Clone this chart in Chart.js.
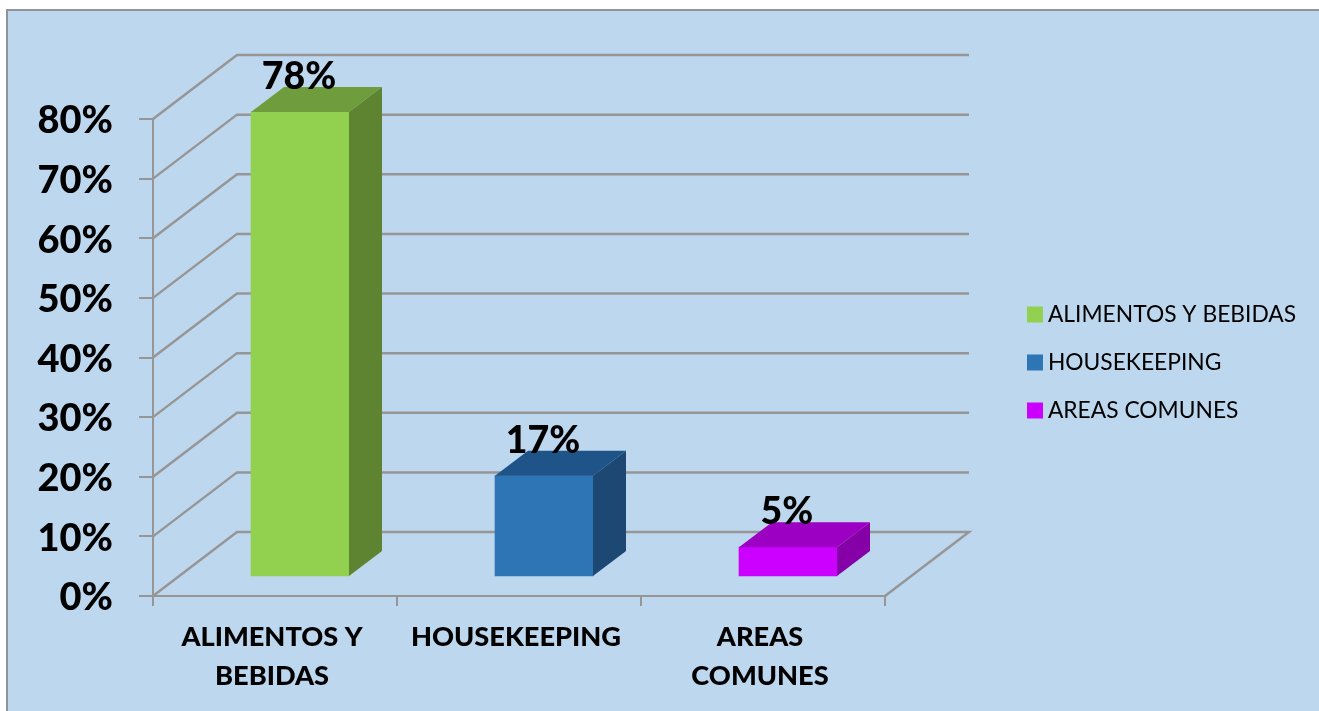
<!DOCTYPE html>
<html>
<head>
<meta charset="utf-8">
<title>Chart</title>
<style>
    html, body { margin: 0; padding: 0; background: #fff; overflow: hidden; }
    #frame {
        position: absolute; left: 6px; top: 9px; right: 0; bottom: 0;
        background: #bdd7ee; border-left: 2px solid #8f9499; border-top: 2px solid #8f9499;
    }
    #chart { position: absolute; left: 0; top: 0; }
</style>
<script src="https://cdn.jsdelivr.net/npm/chart.js@4/dist/chart.umd.min.js"></script>
</head>
<body>
<div id="frame"></div>
<canvas id="chart" width="1319" height="711"></canvas>
<script>
const categories = [['ALIMENTOS Y', 'BEBIDAS'], 'HOUSEKEEPING', ['AREAS', 'COMUNES']];
const legendLabels = ['ALIMENTOS Y BEBIDAS', 'HOUSEKEEPING', 'AREAS COMUNES'];
const values = [0.78, 0.17, 0.05];

const frontColors = ['#92d050', '#2e75b6', '#cc00ff'];
const topColors = ['#6f9c3d', '#1f5489', '#9c00c3'];
const sideColors = ['#5e8431', '#1c4873', '#8500a6'];

const GRID = '#969696';
const FONT = 'Lato, "Open Sans", sans-serif';

// 3D projection offsets
const WALL_DX = 84, WALL_DY = -64;   // front plane -> back wall
const BAR_DX = 25, BAR_DY = -19;     // front plane -> bar front face
const DEPTH_DX = 33, DEPTH_DY = -25; // bar front face -> bar back face

function poly(ctx, color, pts) {
    ctx.fillStyle = color;
    ctx.beginPath();
    pts.forEach((p, i) => i ? ctx.lineTo(p[0], p[1]) : ctx.moveTo(p[0], p[1]));
    ctx.closePath();
    ctx.fill();
}

const fake3d = {
    id: 'fake3d',
    afterLayout(chart) {
        // legend sits outside the plot, the plot size is fixed by the padding
        const lg = chart.legend;
        lg.left = 1033.5 - lg.options.labels.padding;
        lg.right = 1319;
        lg.top = 278;
        lg.bottom = 711;
    },
    beforeDatasetsDraw(chart) {
        const ctx = chart.ctx, y = chart.scales.y, area = chart.chartArea;
        ctx.save();
        ctx.strokeStyle = GRID;
        ctx.lineWidth = 2.5;
        y.ticks.forEach(t => {
            const py = y.getPixelForValue(t.value);
            ctx.beginPath();
            ctx.moveTo(area.left, py);
            ctx.lineTo(area.left + WALL_DX, py + WALL_DY);
            ctx.lineTo(area.right + WALL_DX, py + WALL_DY);
            if (t.value === 0) ctx.lineTo(area.right, py);
            ctx.stroke();
        });
        ctx.restore();
        // front faces are drawn by Chart.js, just moved into the floor depth
        ctx.save();
        ctx.translate(BAR_DX, BAR_DY);
    },
    afterDatasetsDraw(chart) {
        const ctx = chart.ctx;
        ctx.restore();
        chart.getDatasetMeta(0).data.forEach((bar, i) => {
            const l = bar.x - bar.width / 2 + BAR_DX, r = bar.x + bar.width / 2 + BAR_DX;
            const t = bar.y + BAR_DY, b = bar.base + BAR_DY;
            poly(ctx, topColors[i], [[l, t], [r, t], [r + DEPTH_DX, t + DEPTH_DY], [l + DEPTH_DX, t + DEPTH_DY]]);
            poly(ctx, sideColors[i], [[r, t], [r + DEPTH_DX, t + DEPTH_DY], [r + DEPTH_DX, b + DEPTH_DY], [r, b]]);

            ctx.save();
            ctx.fillStyle = '#000';
            ctx.font = '900 37.5px ' + FONT;
            ctx.textAlign = 'center';
            ctx.textBaseline = 'alphabetic';
            ctx.fillText(Math.round(values[i] * 100) + '%', (l + r) / 2 - 1, t - 23);
            ctx.restore();
        });
    }
};

new Chart(document.getElementById('chart'), {
    type: 'bar',
    data: {
        labels: categories,
        datasets: [{
            data: values,
            backgroundColor: frontColors,
            barThickness: 98
        }]
    },
    options: {
        responsive: false,
        animation: false,
        layout: { padding: { left: 0, top: 119, right: 434, bottom: 0 } },
        plugins: {
            tooltip: { enabled: false },
            legend: {
                position: 'chartArea',
                align: 'start',
                labels: {
                    color: '#1a1a1a',
                    font: { family: FONT, size: 22.8 },
                    boxWidth: 3,
                    boxHeight: 3,
                    padding: 25.2,
                    // thick same-colour stroke gives the 16px swatch with a tight text gap
                    generateLabels: () => legendLabels.map((text, i) => ({
                        text,
                        fillStyle: frontColors[i],
                        strokeStyle: frontColors[i],
                        lineWidth: 13,
                        lineJoin: 'miter',
                        index: i
                    }))
                }
            }
        },
        scales: {
            x: {
                afterFit(s) { s.height = 115; },
                grid: { drawOnChartArea: false, color: GRID, lineWidth: 2, tickLength: 10 },
                border: { color: GRID, width: 2 },
                ticks: {
                    color: '#000',
                    font: { family: FONT, size: 27.2, weight: '900', lineHeight: 1.43 },
                    padding: 12,
                    maxRotation: 0,
                    autoSkip: false,
                    labelOffset: -3
                }
            },
            y: {
                min: 0,
                max: 0.8,
                afterFit(s) { s.width = 153; },
                grid: { drawOnChartArea: false, color: GRID, lineWidth: 2, tickLength: 14 },
                border: { color: GRID, width: 2 },
                ticks: {
                    stepSize: 0.1,
                    color: '#000',
                    font: { family: FONT, size: 38, weight: '900' },
                    padding: 26,
                    labelOffset: 2,
                    callback: v => Math.round(v * 100) + '%'
                }
            }
        }
    },
    plugins: [fake3d]
});
</script>
</body>
</html>
